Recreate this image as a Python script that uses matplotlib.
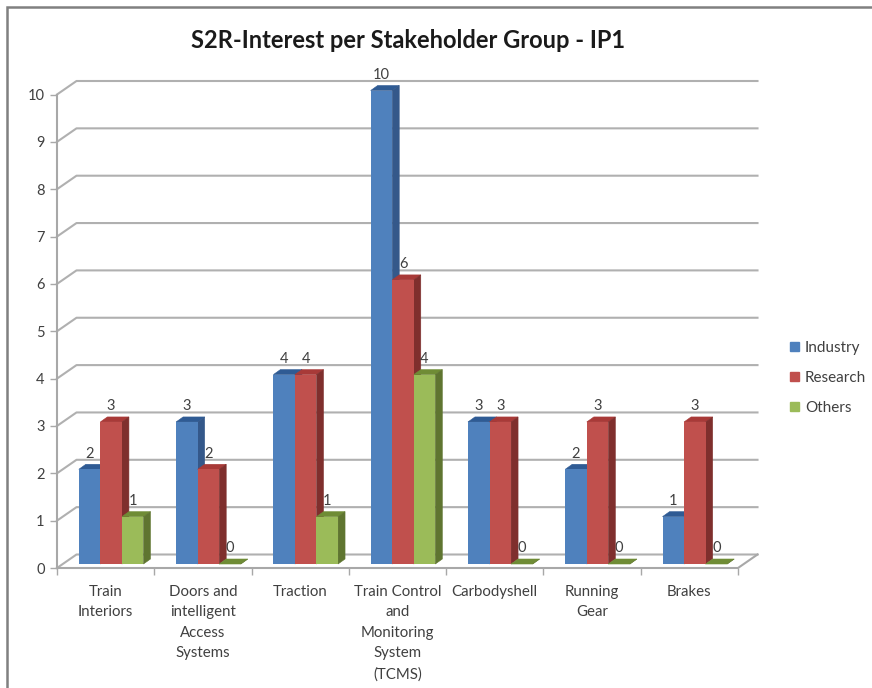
import numpy as np
import matplotlib
matplotlib.use("Agg")
import matplotlib.pyplot as plt
from matplotlib.patches import Polygon, Patch, Rectangle
from matplotlib.transforms import Affine2D, IdentityTransform
from matplotlib.lines import Line2D

categories = ["Train\nInteriors", "Doors and\nintelligent\nAccess\nSystems", "Traction",
              "Train Control\nand\nMonitoring\nSystem\n(TCMS)", "Carbodyshell", "Running\nGear", "Brakes"]
series_names = ["Industry", "Research", "Others"]
industry = [2, 3, 4, 10, 3, 2, 1]
research = [3, 2, 4, 6, 3, 3, 3]
others = [1, 0, 1, 4, 0, 0, 0]
series_values = [industry, research, others]
y_ticks = list(range(0, 11))
title = "S2R-Interest per Stakeholder Group - IP1"

front_colors = ["#4f81bd", "#c0504d", "#9bbb59"]
top_colors = ["#2f5b94", "#a83a38", "#6f8c35"]
side_colors = ["#34588a", "#7f2f2d", "#5f7530"]
GRID = "#b0b0b0"
AXIS = "#a8a8a8"
TXT = "#404040"

W, H = 872, 688
plt.rcParams["font.family"] = ["Lato", "DejaVu Sans"]
fig = plt.figure(figsize=(W / 100, H / 100), dpi=100, facecolor="white")

L, R, B, T = 57, 738, 568, 94.5
ax = fig.add_axes([L / W, 1 - B / H, (R - L) / W, (B - T) / H])
ax.set_xlim(0, len(categories))
ax.set_ylim(0, 10)
ax.patch.set_visible(False)
for s in ax.spines.values():
    s.set_visible(False)

DX, DY = 19.5, 13.5          # wall depth, px
OX, OY = 5.5, 4              # bar base offset, px
BDX, BDY = 7, 5              # bar depth, px
BW = 0.2215                  # bar width, category units


def px(x, y):
    return ax.transData.transform((x, y))


def poly(pts, color, z):
    ax.add_patch(Polygon(pts, closed=True, transform=IdentityTransform(), facecolor=color,
                         edgecolor=color, linewidth=0.4, zorder=z, clip_on=False))


# walls and gridlines
for v in y_ticks:
    x0, y0 = px(0, v)
    x1, y1 = px(len(categories), v)
    ax.add_line(Line2D([x0, x0 + DX, x1 + DX], [y0, y0 + DY, y0 + DY], transform=IdentityTransform(),
                       color=GRID, lw=1.5, zorder=1, clip_on=False))
x0, y0 = px(0, 0)
x1, y1 = px(len(categories), 0)
ax.add_line(Line2D([x0, x1, x1 + DX], [y0, y0, y0 + DY], transform=IdentityTransform(),
                   color=AXIS, lw=1.5, zorder=1, clip_on=False))
xt, yt = px(0, 10)
ax.add_line(Line2D([x0, xt], [y0, yt], transform=IdentityTransform(), color=AXIS, lw=1.5, zorder=1, clip_on=False))

# bars
z = 5
for c in range(len(categories)):
    for s, vals in enumerate(series_values):
        v = vals[c]
        left = c + 0.5 + (s - 1.5) * BW
        a = np.array(px(left, v)) + (OX, OY)
        b = np.array(px(left + BW, v)) + (OX, OY)
        base_r = np.array(px(left + BW, 0)) + (OX, OY)
        d = np.array((BDX, BDY))
        poly([a, b, b + d, a + d], top_colors[s], z)
        poly([b, base_r, base_r + d, b + d], side_colors[s], z)
        if v > 0:
            ax.bar(left, v, width=BW, align="edge", color=front_colors[s], zorder=z + 0.5,
                   transform=ax.transData + Affine2D().translate(OX, OY), clip_on=False)
        lx, ly = (a + b) / 2 + (0, 15.5)
        ax.text(lx, ly, str(v), transform=IdentityTransform(), ha="center", va="center",
                fontsize=10.5, color=TXT, zorder=20)
        z += 1

ax.set_yticks(y_ticks, [str(v) for v in y_ticks])
ax.tick_params(axis="y", length=5, width=1, color=AXIS, labelsize=10.5, labelcolor=TXT, pad=4)
ax.set_xticks(np.arange(len(categories)) + 0.5, categories, linespacing=1.6)
ax.tick_params(axis="x", length=0, labelsize=10.8, labelcolor=TXT, pad=12)
ax.set_xticks(np.arange(len(categories) + 1), minor=True)
ax.tick_params(axis="x", which="minor", length=5, width=1, color=AXIS)

fig.text(408.5 / W, 1 - 40 / H, title, ha="center", va="center", fontsize=17, fontweight="bold",
         color="#1a1a1a")

handles = [Patch(facecolor=c, edgecolor=c) for c in front_colors]
fig.legend(handles, series_names, loc="upper left", bbox_to_anchor=(784 / W, 1 - 335 / H), frameon=False,
           fontsize=11, labelcolor=TXT, handlelength=0.58, handleheight=0.58, handletextpad=0.38,
           labelspacing=1.04, borderaxespad=0)

# outer chart frame
fig.add_artist(Rectangle((7 / W, -0.02), (W + 20) / W, 1.02 - 7 / H, transform=fig.transFigure, fill=False,
                         edgecolor="#808080", linewidth=1.8))

fig.savefig("out.png", dpi=100)
